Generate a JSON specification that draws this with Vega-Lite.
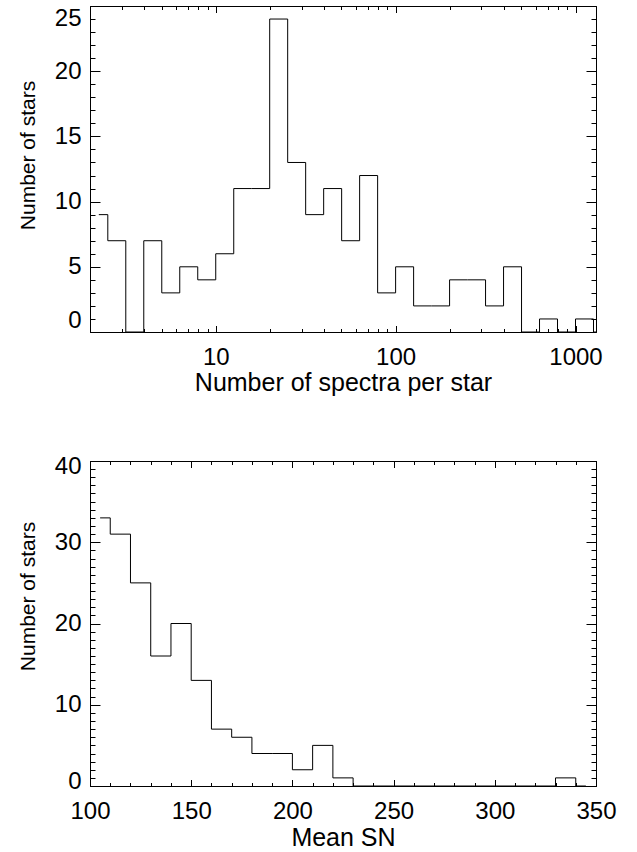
{
  "$schema": "https://vega.github.io/schema/vega-lite/v6.json",
  "background": "white",
  "padding": {"left": 16, "top": 5, "right": 5, "bottom": 5},
  "spacing": 58,
  "config": {
    "view": {"stroke": null},
    "axis": {
      "grid": false,
      "domainColor": "black",
      "tickColor": "black",
      "labelColor": "black",
      "titleColor": "black",
      "labelFont": "Liberation Sans",
      "titleFont": "Liberation Sans",
      "labelFontSize": 24,
      "titleFontSize": 25,
      "titleFontWeight": "normal",
      "domainWidth": 1,
      "tickWidth": 1,
      "labelOverlap": false
    }
  },
  "vconcat": [
    {
      "width": 506,
      "height": 326,
      "data": {
        "values": [
          {"spectra": 2.239, "stars": 9},
          {"spectra": 2.818, "stars": 7},
          {"spectra": 3.548, "stars": 0},
          {"spectra": 4.467, "stars": 7},
          {"spectra": 5.623, "stars": 3},
          {"spectra": 7.079, "stars": 5},
          {"spectra": 8.913, "stars": 4},
          {"spectra": 11.22, "stars": 6},
          {"spectra": 14.13, "stars": 11},
          {"spectra": 17.78, "stars": 11},
          {"spectra": 22.39, "stars": 24},
          {"spectra": 28.18, "stars": 13},
          {"spectra": 35.48, "stars": 9},
          {"spectra": 44.67, "stars": 11},
          {"spectra": 56.23, "stars": 7},
          {"spectra": 70.79, "stars": 12},
          {"spectra": 89.13, "stars": 3},
          {"spectra": 112.2, "stars": 5},
          {"spectra": 141.3, "stars": 2},
          {"spectra": 177.8, "stars": 2},
          {"spectra": 223.9, "stars": 4},
          {"spectra": 281.8, "stars": 4},
          {"spectra": 354.8, "stars": 2},
          {"spectra": 446.7, "stars": 5},
          {"spectra": 562.3, "stars": 0},
          {"spectra": 707.9, "stars": 1},
          {"spectra": 891.3, "stars": 0},
          {"spectra": 1122, "stars": 1},
          {"spectra": 1413, "stars": 0}
        ]
      },
      "resolve": {"axis": {"x": "independent", "y": "independent"}},
      "layer": [
        {
          "mark": {"type": "line", "interpolate": "step", "color": "black", "strokeWidth": 1, "clip": true},
          "encoding": {
            "x": {
              "field": "spectra", "type": "quantitative",
              "scale": {"type": "log", "domain": [2, 1300], "nice": false},
              "axis": {"orient": "bottom", "values": [10, 100, 1000], "format": "d", "tickSize": -6.5, "labelPadding": 19.5, "labelFlush": false,
                       "title": "Number of spectra per star", "titleY": 58.5, "titleBaseline": "alphabetic"}
            },
            "y": {
              "field": "stars", "type": "quantitative",
              "scale": {"domain": [0, 25], "nice": false, "zero": false},
              "axis": {"orient": "left", "values": [0, 5, 10, 15, 20, 25], "format": "d", "tickSize": -10, "labelPadding": 19, "labelFlush": true,
                       "title": "Number of stars", "titleFontSize": 21, "titleX": -56, "titleY": 149, "titleBaseline": "alphabetic"}
            }
          }
        },
        {
          "mark": {"type": "point", "opacity": 0, "clip": true},
          "encoding": {
            "x": {
              "field": "spectra", "type": "quantitative",
              "scale": {"type": "log", "domain": [2, 1300], "nice": false},
              "axis": {"orient": "bottom", "values": [2, 3, 4, 5, 6, 7, 8, 9, 20, 30, 40, 50, 60, 70, 80, 90, 200, 300, 400, 500, 600, 700, 800, 900], "tickSize": -3.5, "labels": false, "domain": false, "title": null}
            },
            "y": {
              "field": "stars", "type": "quantitative",
              "scale": {"domain": [0, 25], "nice": false, "zero": false},
              "axis": {"orient": "left", "values": [0, 1, 2, 3, 4, 5, 6, 7, 8, 9, 10, 11, 12, 13, 14, 15, 16, 17, 18, 19, 20, 21, 22, 23, 24, 25], "tickSize": -5, "labels": false, "domain": false, "title": null}
            }
          }
        },
        {
          "mark": {"type": "point", "opacity": 0, "clip": true},
          "encoding": {
            "x": {
              "field": "spectra", "type": "quantitative",
              "scale": {"type": "log", "domain": [2, 1300], "nice": false},
              "axis": {"orient": "top", "values": [10, 100, 1000], "tickSize": -6.5, "labels": false, "title": null}
            },
            "y": {
              "field": "stars", "type": "quantitative",
              "scale": {"domain": [0, 25], "nice": false, "zero": false},
              "axis": {"orient": "right", "values": [0, 5, 10, 15, 20, 25], "tickSize": -10, "labels": false, "title": null}
            }
          }
        },
        {
          "mark": {"type": "point", "opacity": 0, "clip": true},
          "encoding": {
            "x": {
              "field": "spectra", "type": "quantitative",
              "scale": {"type": "log", "domain": [2, 1300], "nice": false},
              "axis": {"orient": "top", "values": [2, 3, 4, 5, 6, 7, 8, 9, 20, 30, 40, 50, 60, 70, 80, 90, 200, 300, 400, 500, 600, 700, 800, 900], "tickSize": -3.5, "labels": false, "domain": false, "title": null}
            },
            "y": {
              "field": "stars", "type": "quantitative",
              "scale": {"domain": [0, 25], "nice": false, "zero": false},
              "axis": {"orient": "right", "values": [0, 1, 2, 3, 4, 5, 6, 7, 8, 9, 10, 11, 12, 13, 14, 15, 16, 17, 18, 19, 20, 21, 22, 23, 24, 25], "tickSize": -5, "labels": false, "domain": false, "title": null}
            }
          }
        }
      ]
    },
    {
      "width": 506,
      "height": 325,
      "data": {
        "values": [
          {"sn": 105, "stars": 33},
          {"sn": 115, "stars": 31},
          {"sn": 125, "stars": 25},
          {"sn": 135, "stars": 16},
          {"sn": 145, "stars": 20},
          {"sn": 155, "stars": 13},
          {"sn": 165, "stars": 7},
          {"sn": 175, "stars": 6},
          {"sn": 185, "stars": 4},
          {"sn": 195, "stars": 4},
          {"sn": 205, "stars": 2},
          {"sn": 215, "stars": 5},
          {"sn": 225, "stars": 1},
          {"sn": 235, "stars": 0},
          {"sn": 245, "stars": 0},
          {"sn": 255, "stars": 0},
          {"sn": 265, "stars": 0},
          {"sn": 275, "stars": 0},
          {"sn": 285, "stars": 0},
          {"sn": 295, "stars": 0},
          {"sn": 305, "stars": 0},
          {"sn": 315, "stars": 0},
          {"sn": 325, "stars": 0},
          {"sn": 335, "stars": 1},
          {"sn": 345, "stars": 0}
        ]
      },
      "resolve": {"axis": {"x": "independent", "y": "independent"}},
      "layer": [
        {
          "mark": {"type": "line", "interpolate": "step", "color": "black", "strokeWidth": 1, "clip": true},
          "encoding": {
            "x": {
              "field": "sn", "type": "quantitative",
              "scale": {"domain": [100, 350], "nice": false, "zero": false},
              "axis": {"orient": "bottom", "values": [100, 150, 200, 250, 300, 350], "format": "d", "tickSize": -6.5, "labelPadding": 19.5, "labelFlush": false,
                       "title": "Mean SN", "titleY": 59, "titleBaseline": "alphabetic"}
            },
            "y": {
              "field": "stars", "type": "quantitative",
              "scale": {"domain": [0, 40], "nice": false, "zero": false},
              "axis": {"orient": "left", "values": [0, 10, 20, 30, 40], "format": "d", "tickSize": -10, "labelPadding": 19, "labelFlush": true, "labelFlushOffset": 7,
                       "title": "Number of stars", "titleFontSize": 21, "titleX": -56, "titleY": 135, "titleBaseline": "alphabetic"}
            }
          }
        },
        {
          "mark": {"type": "point", "opacity": 0, "clip": true},
          "encoding": {
            "x": {
              "field": "sn", "type": "quantitative",
              "scale": {"domain": [100, 350], "nice": false, "zero": false},
              "axis": {"orient": "bottom", "values": [100, 110, 120, 130, 140, 150, 160, 170, 180, 190, 200, 210, 220, 230, 240, 250, 260, 270, 280, 290, 300, 310, 320, 330, 340, 350], "tickSize": -3.5, "labels": false, "domain": false, "title": null}
            },
            "y": {
              "field": "stars", "type": "quantitative",
              "scale": {"domain": [0, 40], "nice": false, "zero": false},
              "axis": {"orient": "left", "values": [0, 1, 2, 3, 4, 5, 6, 7, 8, 9, 10, 11, 12, 13, 14, 15, 16, 17, 18, 19, 20, 21, 22, 23, 24, 25, 26, 27, 28, 29, 30, 31, 32, 33, 34, 35, 36, 37, 38, 39, 40], "tickSize": -5, "labels": false, "domain": false, "title": null}
            }
          }
        },
        {
          "mark": {"type": "point", "opacity": 0, "clip": true},
          "encoding": {
            "x": {
              "field": "sn", "type": "quantitative",
              "scale": {"domain": [100, 350], "nice": false, "zero": false},
              "axis": {"orient": "top", "values": [100, 150, 200, 250, 300, 350], "tickSize": -6.5, "labels": false, "title": null}
            },
            "y": {
              "field": "stars", "type": "quantitative",
              "scale": {"domain": [0, 40], "nice": false, "zero": false},
              "axis": {"orient": "right", "values": [0, 10, 20, 30, 40], "tickSize": -10, "labels": false, "title": null}
            }
          }
        },
        {
          "mark": {"type": "point", "opacity": 0, "clip": true},
          "encoding": {
            "x": {
              "field": "sn", "type": "quantitative",
              "scale": {"domain": [100, 350], "nice": false, "zero": false},
              "axis": {"orient": "top", "values": [100, 110, 120, 130, 140, 150, 160, 170, 180, 190, 200, 210, 220, 230, 240, 250, 260, 270, 280, 290, 300, 310, 320, 330, 340, 350], "tickSize": -3.5, "labels": false, "domain": false, "title": null}
            },
            "y": {
              "field": "stars", "type": "quantitative",
              "scale": {"domain": [0, 40], "nice": false, "zero": false},
              "axis": {"orient": "right", "values": [0, 1, 2, 3, 4, 5, 6, 7, 8, 9, 10, 11, 12, 13, 14, 15, 16, 17, 18, 19, 20, 21, 22, 23, 24, 25, 26, 27, 28, 29, 30, 31, 32, 33, 34, 35, 36, 37, 38, 39, 40], "tickSize": -5, "labels": false, "domain": false, "title": null}
            }
          }
        }
      ]
    }
  ]
}
